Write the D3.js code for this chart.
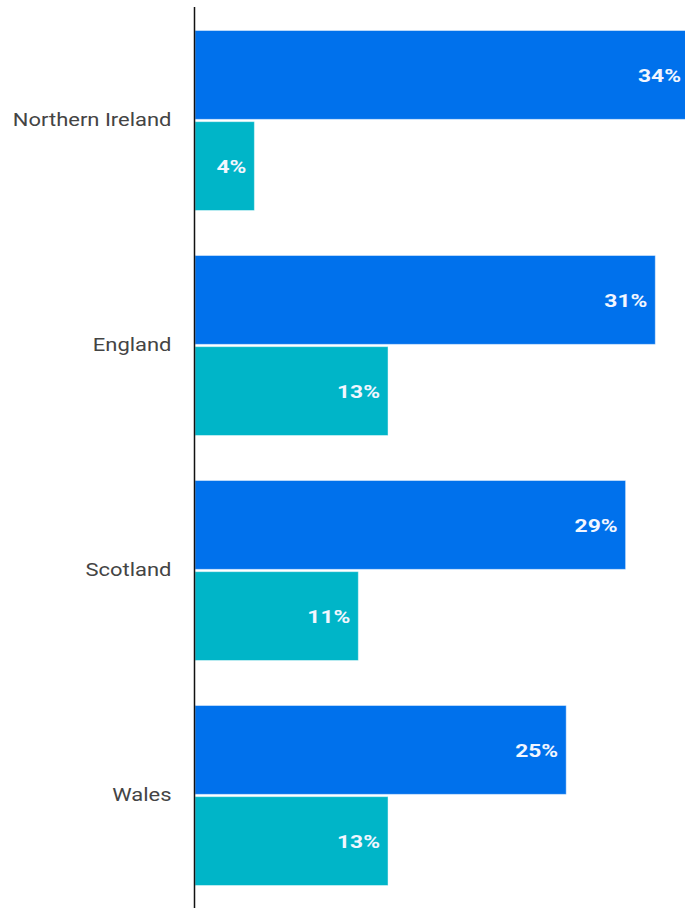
<!DOCTYPE html>
<html>
<head>
<meta charset="utf-8">
<script src="https://cdn.jsdelivr.net/npm/d3@7"></script>
<style>
  html, body { margin: 0; padding: 0; background: #fff; }
  svg { display: block; font-family: Roboto, "Noto Sans", sans-serif; }
</style>
</head>
<body>
<svg id="chart" width="685" height="908"></svg>
<script>
// Regions shown on the vertical axis
const regions = ["Northern Ireland", "England", "Scotland", "Wales"];
// Two series per region, in percent
const seriesKeys = ["first", "second"];
const firstValues = [34, 31, 29, 25];
const secondValues = [4, 13, 11, 13];
const seriesColors = ["#0071ec", "#00b5c8"];

const width = 685, height = 908;
const axisX = 194.5;
// Text in this chart is set wide; stretch glyphs horizontally
const labelStretch = 1.22;
const valueStretch = 1.2;

const rows = regions.map((r, i) => ({
  region: r,
  values: [
    { key: seriesKeys[0], value: firstValues[i] },
    { key: seriesKeys[1], value: secondValues[i] }
  ]
}));

const svg = d3.select("#chart");

const y0 = d3.scaleBand()
  .domain(regions)
  .range([8, 908])
  .paddingInner(0.2)
  .paddingOuter(0.1);

const y1 = d3.scaleBand()
  .domain(seriesKeys)
  .range([0, y0.bandwidth()])
  .paddingInner(0.025);

const x = d3.scaleLinear()
  .domain([0, 33])
  .range([axisX + 0.5, width]);

const color = d3.scaleOrdinal().domain(seriesKeys).range(seriesColors);

const plot = svg.append("g");

const groups = plot.selectAll("g.region")
  .data(rows)
  .join("g")
  .attr("class", "region")
  .attr("transform", d => `translate(0,${y0(d.region)})`);

groups.selectAll("rect")
  .data(d => d.values)
  .join("rect")
  .attr("x", x(0))
  .attr("y", d => y1(d.key))
  .attr("width", d => x(d.value) - x(0))
  .attr("height", y1.bandwidth())
  .attr("fill", d => color(d.key))
  .attr("stroke", "rgba(255,255,255,0.45)")
  .attr("stroke-width", 1);

// Value labels, right-aligned just inside the end of each bar
groups.selectAll("g.value")
  .data(d => d.values)
  .join("g")
  .attr("class", "value")
  .attr("transform", d => {
    const end = Math.min(x(d.value) - 8, width - 4);
    return `translate(${end},${y1(d.key) + y1.bandwidth() / 2}) scale(${valueStretch},1)`;
  })
  .append("text")
  .attr("dy", "0.35em")
  .attr("text-anchor", "end")
  .attr("fill", "#f2f6ff")
  .attr("font-size", 19)
  .attr("font-weight", "bold")
  .text(d => d.value + "%");

// Category axis on the left
const yAxis = d3.axisLeft(y0).tickSize(0).tickPadding(0);
const axisG = svg.append("g")
  .attr("transform", `translate(${axisX},0)`)
  .call(yAxis);
axisG.select(".domain").remove();
axisG.selectAll(".tick text")
  .attr("x", 0)
  .attr("transform", `translate(-23,0) scale(${labelStretch},1)`)
  .attr("font-size", 18)
  .attr("font-family", "Roboto, sans-serif")
  .attr("fill", "#444");

svg.append("line")
  .attr("x1", axisX).attr("x2", axisX)
  .attr("y1", 7).attr("y2", height)
  .attr("stroke", "#111")
  .attr("stroke-width", 1.5);
</script>
</body>
</html>
